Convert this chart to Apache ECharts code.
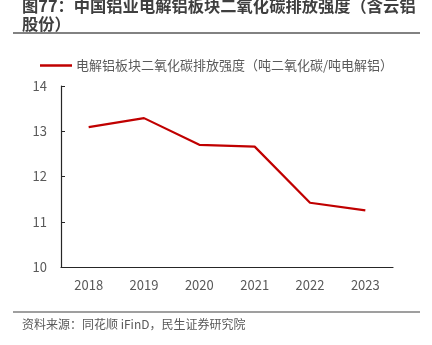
<!DOCTYPE html>
<html>
<head>
<meta charset="utf-8">
<script src="https://cdn.jsdelivr.net/npm/echarts@6/dist/echarts.min.js"></script>
<style>
html,body{margin:0;padding:0;background:#fff;}
#chart{width:432px;height:345px;}
</style>
</head>
<body>
<div id="chart"></div>
<script>
var categories = ['2018', '2019', '2020', '2021', '2022', '2023'];
var values = [13.09, 13.29, 12.70, 12.66, 11.42, 11.25];
var seriesName = '电解铝板块二氧化碳排放强度（吨二氧化碳/吨电解铝）';
var titleText = '图77：中国铝业电解铝板块二氧化碳排放强度（含云铝\n股份）';
var sourceText = '资料来源：同花顺 iFinD，民生证券研究院';

var FONT = '"Noto Sans CJK SC", "Noto Sans", sans-serif';
var chart = echarts.init(document.getElementById('chart'), null, {renderer: 'canvas'});
chart.setOption({
  animation: false,
  backgroundColor: '#fff',
  title: {
    text: titleText,
    left: 22,
    top: -3,
    padding: 0,
    textStyle: {fontFamily: FONT, fontSize: 16.3, fontWeight: 'bold', color: '#3f3f3f', lineHeight: 18}
  },
  graphic: [
    {type: 'line', shape: {x1: 13, y1: 33, x2: 420, y2: 33}, style: {stroke: '#595959', lineWidth: 1.5}},
    {type: 'line', shape: {x1: 13, y1: 312, x2: 420, y2: 312}, style: {stroke: '#7f7f7f', lineWidth: 1.5}},
    {type: 'text', left: 22, top: 318, style: {text: sourceText, font: '12px ' + FONT, fill: '#595959'}}
  ],
  legend: {
    data: [{name: seriesName, icon: 'rect'}],
    left: 40,
    top: 59,
    padding: 0,
    itemWidth: 32,
    itemHeight: 2.5,
    itemGap: 4,
    textStyle: {fontFamily: FONT, fontSize: 13, color: '#595959', padding: [0, 0, 0, -1]}
  },
  grid: {left: 61, right: 39, top: 86, bottom: 78, containLabel: false},
  xAxis: {
    type: 'category',
    data: categories,
    boundaryGap: true,
    axisLine: {lineStyle: {color: '#262626', width: 1.2}},
    axisTick: {inside: true, length: 5, lineStyle: {color: '#262626'}},
    axisLabel: {fontFamily: FONT, fontSize: 13, color: '#595959', margin: 12}
  },
  yAxis: {
    type: 'value',
    min: 10,
    max: 14,
    interval: 1,
    axisLine: {show: true, lineStyle: {color: '#262626', width: 1.2}},
    axisTick: {show: true, inside: true, length: 4, lineStyle: {color: '#262626'}},
    splitLine: {show: false},
    axisLabel: {fontFamily: FONT, fontSize: 13, color: '#595959', margin: 14}
  },
  series: [{
    name: seriesName,
    type: 'line',
    data: values,
    symbol: 'none',
    lineStyle: {color: '#c00000', width: 2.2},
    itemStyle: {color: '#c00000'}
  }]
});
</script>
</body>
</html>
